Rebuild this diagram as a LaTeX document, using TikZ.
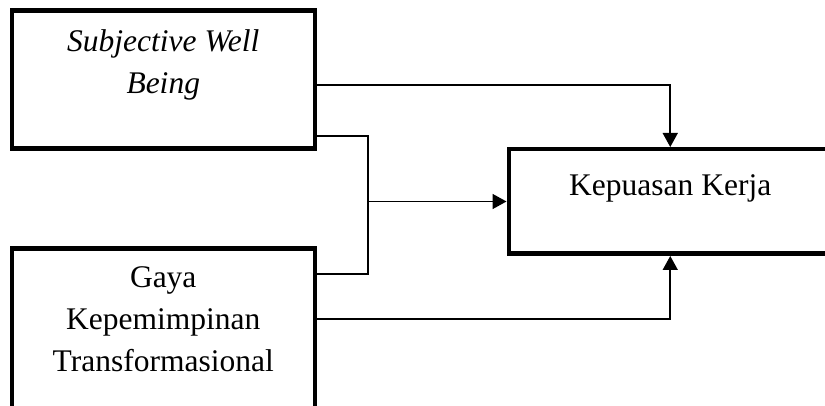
\documentclass[tikz,border=0pt]{standalone}
\usepackage{fontspec}
\setmainfont{Liberation Serif}
\usetikzlibrary{positioning,arrows.meta}

\begin{document}
\begin{tikzpicture}[x=1pt,y=-1pt,
  box/.style={draw,line width=4.5pt,rectangle,inner sep=0pt},
  label/.style={inner sep=0pt,align=center,font=\fontsize{31.5}{42}\selectfont},
  line/.style={line width=1.6pt},
  link/.style={line width=1.6pt,-{Triangle[length=14pt,width=15pt]}}]
  \useasboundingbox (0,0) rectangle (825,406);
  \clip (0,0) rectangle (825,406);
  \node[box,anchor=north west,minimum width=303pt,minimum height=138pt] (swb) at (9.5,8.5) {};
  \node[box,anchor=north west,minimum width=303pt,minimum height=175pt] (gkt) at (9.5,246.5) {};
  \node[box,anchor=north west,minimum width=323pt,minimum height=104.5pt] (kk) at (506.5,147) {};
  \node[label,below=20.5pt of swb.north] (swbtext) {\itshape Subjective Well\\\itshape Being};
  \node[label,below=19.5pt of gkt.north] (gkttext) {Gaya\\Kepemimpinan\\Transformasional};
  \node[label,below=27pt of kk.north] (kktext) {Kepuasan Kerja};
  \coordinate (join) at (368,0 |- kk.west);
  \draw[link] ([yshift=-5.5pt]swb.east) -| (kk.north);
  \draw[line] ([yshift=-56.5pt]swb.east) -| (join) |- ([yshift=62pt]gkt.east);
  \draw[link] (join) -- (kk.west);
  \draw[link] ([yshift=17pt]gkt.east) -| (kk.south);
\end{tikzpicture}
\end{document}
